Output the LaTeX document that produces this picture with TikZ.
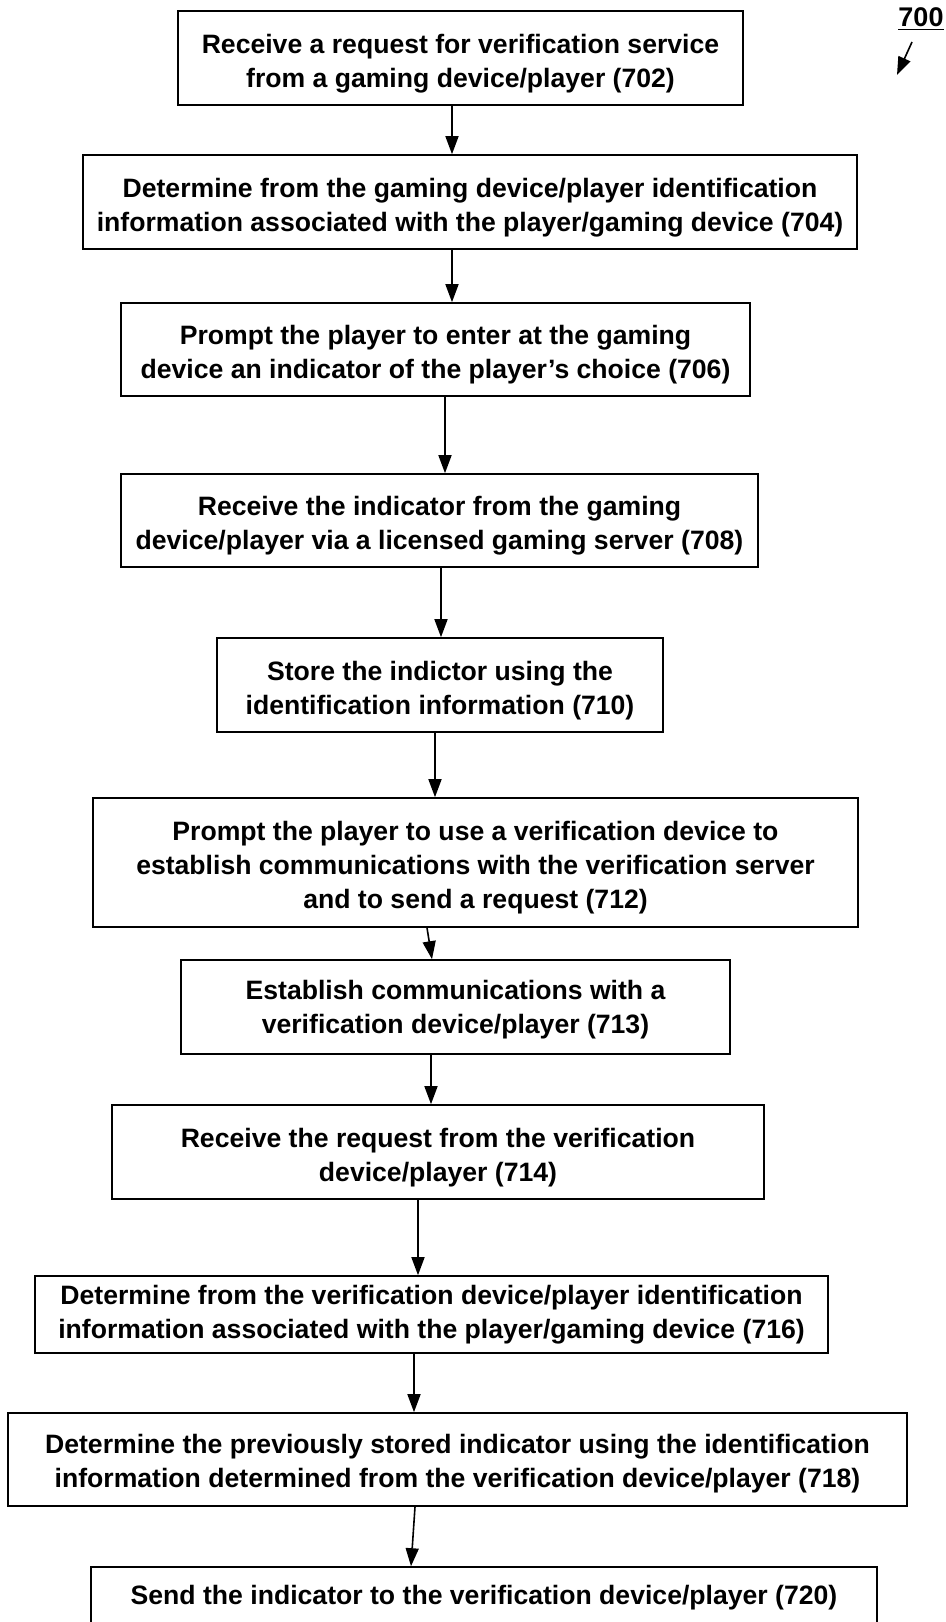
\documentclass[tikz,border=0pt]{standalone}
\usepackage{fontspec}
\setmainfont{Liberation Sans}
\usetikzlibrary{arrows.meta}

\begin{document}
\begin{tikzpicture}[x=0.5pt,y=-0.5pt,line width=0.8pt,
    >={Triangle[length=9pt,width=6.5pt]},
    font=\fontsize{13.3}{17}\selectfont\bfseries,
    stepbox/.style={draw,align=center,inner sep=0pt,text height=#1},
    stepbox/.default=32.2pt]
    \useasboundingbox (0,0) rectangle (946,1622);
    \clip (0,0) rectangle (946,1622);

    \node[stepbox,minimum width=282.5pt,minimum height=47pt] (n702) at (460.5,58)
        {Receive a request for verification service\\from a gaming device/player (702)};
    \node[stepbox,minimum width=387pt,minimum height=47pt] (n704) at (470,202)
        {Determine from the gaming device/player identification\\information associated with the player/gaming device (704)};
    \node[stepbox,minimum width=314.5pt,minimum height=46.5pt] (n706) at (435.5,349.5)
        {Prompt the player to enter at the gaming\\device an indicator of the player’s choice (706)};
    \node[stepbox,minimum width=318.5pt,minimum height=46.5pt] (n708) at (439.5,520.5)
        {Receive the indicator from the gaming\\device/player via a licensed gaming server (708)};
    \node[stepbox,minimum width=223pt,minimum height=47pt] (n710) at (440,685)
        {Store the indictor using the\\identification information (710)};
    \node[stepbox=49.2pt,minimum width=382.5pt,minimum height=64.5pt] (n712) at (475.5,862.5)
        {Prompt the player to use a verification device to\\establish communications with the verification server\\and to send a request (712)};
    \node[stepbox=29.7pt,minimum width=274.5pt,minimum height=47pt] (n713) at (455.5,1007)
        {Establish communications with a\\verification device/player (713)};
    \node[stepbox,minimum width=326pt,minimum height=47pt] (n714) at (438,1152)
        {Receive the request from the verification\\device/player (714)};
    \node[stepbox=26.7pt,minimum width=396.5pt,minimum height=38.5pt] (n716) at (431.5,1314.5)
        {Determine from the verification device/player identification\\information associated with the player/gaming device (716)};
    \node[stepbox=30.7pt,minimum width=449.5pt,minimum height=46.5pt] (n718) at (457.5,1459.5)
        {Determine the previously stored indicator using the identification\\information determined from the verification device/player (718)};
    \node[stepbox=11.7pt,minimum width=393pt,minimum height=29pt] (n720) at (484,1596)
        {Send the indicator to the verification device/player (720)};

    \draw[->] (n702.south -| 452,0) -- (n704.north -| 452,0);
    \draw[->] (n704.south -| 452,0) -- (n706.north -| 452,0);
    \draw[->] (n706.south -| 445,0) -- (n708.north -| 445,0);
    \draw[->] (n708.south -| 441,0) -- (n710.north -| 441,0);
    \draw[->] (n710.south -| 435,0) -- (n712.north -| 435,0);
    \draw[->] (n712.south -| 427,0) -- (n713.north -| 432,0);
    \draw[->] (n713.south -| 431,0) -- (n714.north -| 431,0);
    \draw[->] (n714.south -| 418,0) -- (n716.north -| 418,0);
    \draw[->] (n716.south -| 414,0) -- (n718.north -| 414,0);
    \draw[->] (n718.south -| 415,0) -- (n720.north -| 411,0);

    % figure number
    \node[font=\fontsize{13.5}{16}\selectfont\bfseries,inner sep=0pt] (fig) at (921,19) {\underline{700}};
    \coordinate (figtail) at (912,42);
    \coordinate (figtip) at (897,75);
    \draw[->] (figtail) -- (figtip);
\end{tikzpicture}
\end{document}
